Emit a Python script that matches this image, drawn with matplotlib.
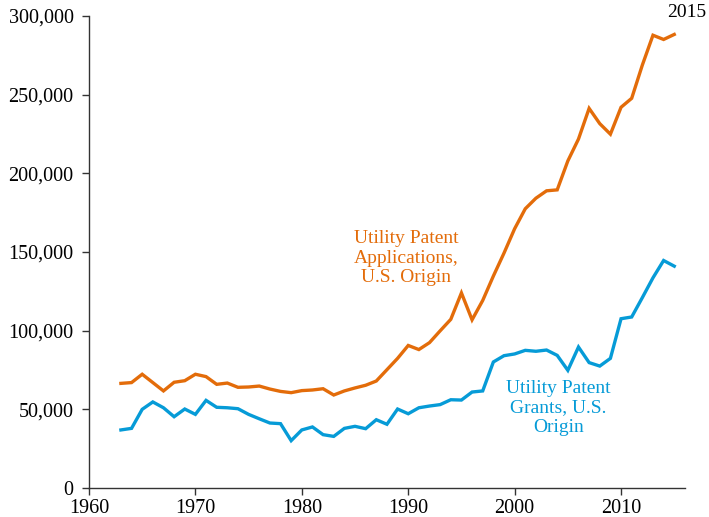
import matplotlib
matplotlib.use("Agg")
import matplotlib.pyplot as plt
from matplotlib.ticker import FuncFormatter

plt.rcParams["font.family"] = ["Liberation Serif", "DejaVu Serif"]

years = list(range(1963, 2016))

# Utility patent applications, U.S. origin
applications = [
    66500, 67000, 72300, 67000, 61700, 67200, 68200, 72300, 70800, 65900,
    66700, 64000, 64200, 64800, 62900, 61400, 60600, 61900, 62300, 63100,
    59100, 61700, 63600, 65300, 68000, 75200, 82400, 90600, 88000, 92400,
    99900, 107200, 124000, 106900, 119200, 134700, 149300, 164800, 177500, 184200,
    188900, 189500, 207900, 221800, 241300, 231600, 224900, 242000, 247700, 268800,
    287800, 285100, 288300,
]

# Utility patent grants, U.S. origin
grants = [
    36900, 37900, 50000, 54700, 51000, 45300, 50200, 46800, 55700, 51300,
    51000, 50400, 46800, 44000, 41300, 40900, 30100, 36900, 38800, 33900,
    32800, 37900, 39200, 37700, 43400, 40500, 50200, 47200, 51000, 52100,
    53000, 56100, 55900, 61000, 61700, 80100, 84100, 85200, 87500, 86900,
    87700, 84300, 74800, 89600, 79700, 77500, 82400, 107600, 108700, 121000,
    133600, 144600, 141000,
]

orange = "#E36C0A"
blue = "#069BD7"

fig = plt.figure(figsize=(7.09, 5.17), dpi=100)
ax = fig.add_axes([0.1255, 0.0561, 0.8405, 0.9129])

ax.plot(years, applications, color=orange, lw=2.4, solid_joinstyle="miter")
ax.plot(years, grants, color=blue, lw=2.4, solid_joinstyle="miter")

ax.set_xlim(1960, 2016)
ax.set_ylim(0, 300000)
ax.set_xticks(range(1960, 2011, 10))
ax.set_yticks(range(0, 300001, 50000))
ax.yaxis.set_major_formatter(FuncFormatter(lambda v, p: f"{int(v):,}"))

for side in ("top", "right"):
    ax.spines[side].set_visible(False)
for side in ("left", "bottom"):
    ax.spines[side].set_color("#333333")
    ax.spines[side].set_linewidth(1.0)
ax.tick_params(direction="out", length=5, width=1.0, color="#333333",
               labelsize=14.5)
ax.tick_params(axis="y", pad=6)
ax.tick_params(axis="x", pad=3)

ax.text(1989.8, 146000, "Utility Patent\nApplications,\nU.S. Origin",
        color=orange, fontsize=14, ha="center", va="center", linespacing=1.2)
ax.text(2004.1, 51000, "Utility Patent\nGrants, U.S.\nOrigin",
        color=blue, fontsize=14, ha="center", va="center", linespacing=1.2)
ax.text(2016.2, 302500, "2015", color="black", fontsize=14,
        ha="center", va="center", clip_on=False)

fig.savefig("out.png", dpi=100)
